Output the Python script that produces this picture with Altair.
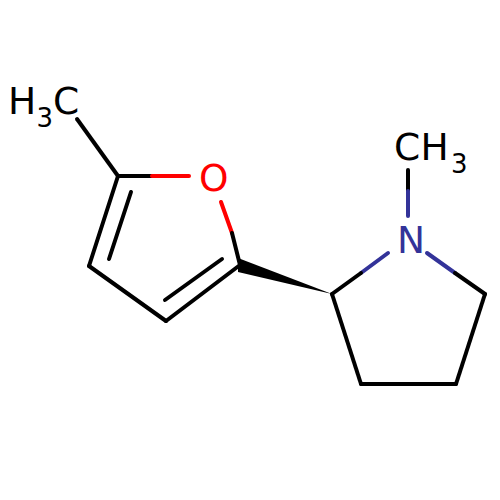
import altair as alt
import pandas as pd

# Bond segments in picture coordinates
seg_x1 = [77, 118, 152, 221, 232, 240, 166, 89, 222, 131, 408, 408, 388, 361, 427, 455, 485, 456, 361]
seg_y1 = [119, 176, 176, 202, 233, 265, 321, 266, 259, 192, 170, 191, 253, 273, 253, 273, 294, 384, 384]
seg_x2 = [118, 152, 189, 232, 240, 166, 89, 118, 165, 109, 408, 408, 361, 332, 455, 485, 456, 361, 332]
seg_y2 = [176, 176, 176, 233, 265, 321, 266, 176, 300, 259, 191, 216, 273, 294, 273, 294, 384, 384, 294]
seg_col = ["#000000", "#000000", "#ff0000", "#ff0000", "#000000", "#000000", "#000000", "#000000",
           "#000000", "#000000", "#000000", "#333399", "#333399", "#000000", "#333399", "#000000",
           "#000000", "#000000", "#000000"]

# Wedge (stereo bond)
wedge_x = [238, 332]
wedge_y = [258, 294]
wedge_y2 = [272, 294]

# Atom labels
lab_text = ["H", "C", "O", "C", "H", "N"]
lab_x = [8, 53, 199, 394, 420.5, 397]
lab_y = [114, 114, 190.5, 160, 160, 253]
lab_col = ["#000000", "#000000", "#ff0000", "#000000", "#000000", "#333399"]
sub_text = ["3", "3"]
sub_x = [36.4, 451]
sub_y = [127, 172.5]

segs = pd.DataFrame({"x": seg_x1, "y": seg_y1, "x2": seg_x2, "y2": seg_y2, "c": seg_col})
wedge = pd.DataFrame({"x": wedge_x, "y": wedge_y, "y2": wedge_y2})
labs = pd.DataFrame({"t": lab_text, "x": lab_x, "y": lab_y, "c": lab_col})
subs = pd.DataFrame({"t": sub_text, "x": sub_x, "y": sub_y})

X = alt.X("x:Q", axis=None, scale=alt.Scale(domain=[8, 492], nice=False, zero=False))
Y = alt.Y("y:Q", axis=None, scale=alt.Scale(domain=[492, 8], nice=False, zero=False))
C = alt.Color("c:N", scale=None)

bonds = alt.Chart(segs).mark_rule(strokeWidth=4, strokeCap="round").encode(
    x=X, y=Y, x2="x2:Q", y2="y2:Q", color=C)
wedge_layer = alt.Chart(wedge).mark_area(color="#000000").encode(x=X, y=Y, y2="y2:Q")
labels = alt.Chart(labs).mark_text(font="DejaVu Sans", fontSize=37.5, align="left", baseline="alphabetic").encode(
    x=X, y=Y, text="t:N", color=C)
subs_layer = alt.Chart(subs).mark_text(font="DejaVu Sans", fontSize=26, align="left", baseline="alphabetic",
                                       color="#000000").encode(x=X, y=Y, text="t:N")

chart = alt.layer(wedge_layer, bonds, labels, subs_layer).properties(
    width=484, height=484, padding=0,
    autosize=alt.AutoSizeParams(type="none"),
).configure_view(stroke=None)

chart.save("out.html", embed_options={"renderer": "svg", "actions": False})
